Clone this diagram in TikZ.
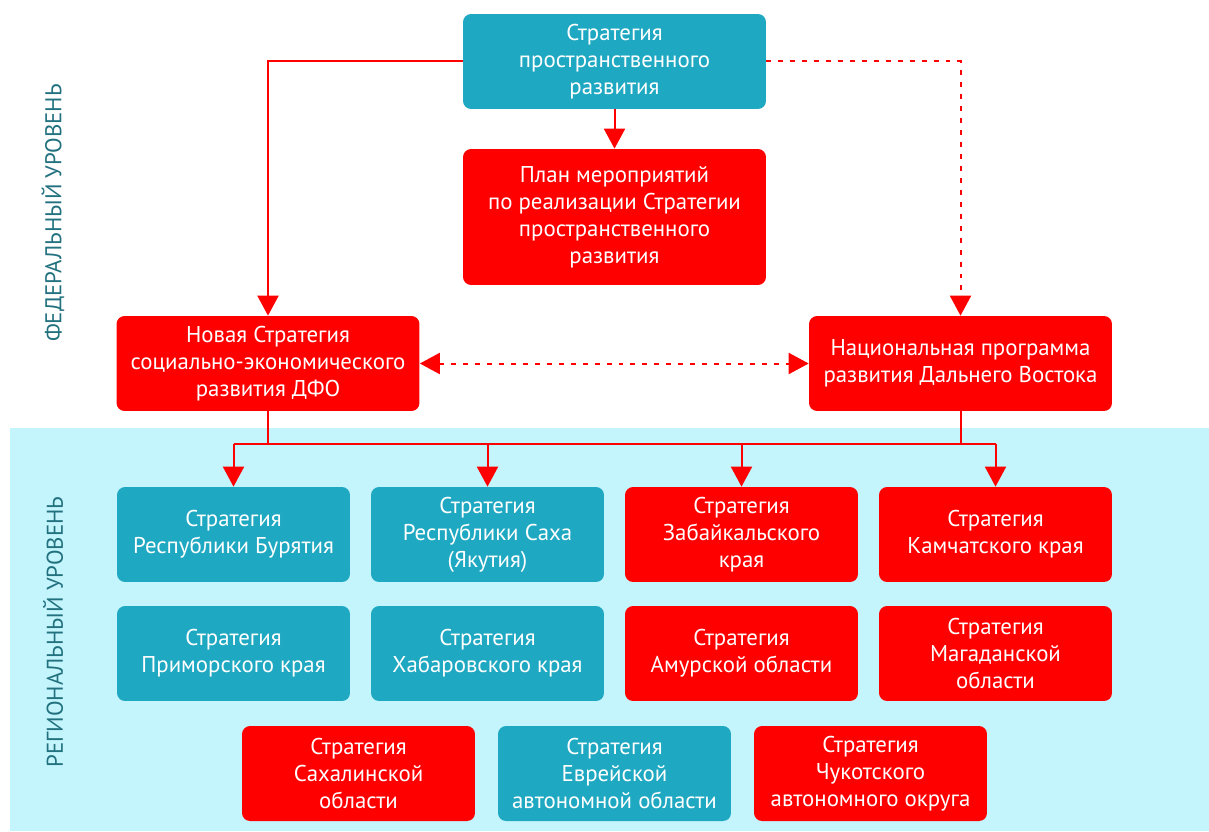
\documentclass[tikz,border=0pt]{standalone}
\usepackage{fontspec}
\setmainfont{PT Sans}
\usetikzlibrary{arrows.meta}
\definecolor{kred}{HTML}{FF0000}
\definecolor{kteal}{HTML}{1FA8C1}
\definecolor{kbg}{HTML}{C5F5FC}
\definecolor{klabel}{HTML}{22717F}
\tikzset{
	box/.style={rounded corners=0.16cm, text=white, align=center, inner sep=0pt, font=\fontsize{13}{15.4}\selectfont},
	bigbox/.style={box, minimum width=6.06cm, minimum height=1.9cm},
	smallbox/.style={box, minimum width=4.66cm, minimum height=1.9cm},
	redbox/.style={fill=kred},
	tealbox/.style={fill=kteal},
	conn/.style={draw=kred, line width=0.04cm},
	arr/.style={conn, -{Triangle[width=0.42cm, length=0.4cm]}},
	dotconn/.style={conn, dash pattern=on 2.8pt off 4pt},
	levellabel/.style={rotate=90, text=klabel, font=\fontsize{13}{15}\selectfont}
}
\begin{document}
\begin{tikzpicture}[x=0.02cm, y=-0.02cm]
	\useasboundingbox (0,0) rectangle (1209,831);
	\fill[kbg] (10,428) rectangle (1209,831);
	\node[levellabel] (fedlvl) at (53,213) {ФЕДЕРАЛЬНЫЙ УРОВЕНЬ};
	\node[levellabel] (reglvl) at (53,632) {РЕГИОНАЛЬНЫЙ УРОВЕНЬ};

	\node[bigbox, tealbox] (top) at (614.5,61.5) {Стратегия\\пространственного\\развития};
	\node[bigbox, redbox, minimum height=2.72cm] (plan) at (614.5,217) {План мероприятий\\по реализации Стратегии\\пространственного\\развития};
	\node[bigbox, redbox] (ndfo) at (268,363.5) {Новая Стратегия\\социально-экономического\\развития ДФО};
	\node[bigbox, redbox] (nprog) at (960.5,363.5) {Национальная программа\\развития Дальнего Востока};

	\node[smallbox, tealbox] (bur) at (233.5,534.5) {Стратегия\\Республики Бурятия};
	\node[smallbox, tealbox] (yak) at (487.5,534.5) {Стратегия\\Республики Саха\\(Якутия)};
	\node[smallbox, redbox] (zab) at (741.5,534.5) {Стратегия\\Забайкальского\\края};
	\node[smallbox, redbox] (kam) at (995.5,534.5) {Стратегия\\Камчатского края};

	\node[smallbox, tealbox] (prim) at (233.5,653.5) {Стратегия\\Приморского края};
	\node[smallbox, tealbox] (hab) at (487.5,653.5) {Стратегия\\Хабаровского края};
	\node[smallbox, redbox] (amur) at (741.5,653.5) {Стратегия\\Амурской области};
	\node[smallbox, redbox] (mag) at (995.5,653.5) {Стратегия\\Магаданской\\области};

	\node[smallbox, redbox] (sakh) at (358.5,773.5) {Стратегия\\Сахалинской\\области};
	\node[smallbox, tealbox] (evr) at (614.5,773.5) {Стратегия\\Еврейской\\автономной области};
	\node[smallbox, redbox] (chuk) at (870.5,773.5) {Стратегия\\Чукотского\\автономного округа};

	\draw[arr] (top.south) -- (plan.north);
	\draw[arr] (top.west) -| (ndfo.north);
	\draw[arr, dotconn] (top.east) -| (nprog.north);
	\draw[dotconn, {Triangle[width=0.42cm, length=0.4cm]}-{Triangle[width=0.42cm, length=0.4cm]}] (ndfo.east) -- (nprog.west);

	\coordinate (busL) at (233.5,444);
	\coordinate (busR) at (995.5,444);
	\draw[conn] (busL) -- (busR);
	\draw[conn] (ndfo.south) -- (ndfo.south |- busL);
	\draw[conn] (nprog.south) -- (nprog.south |- busR);
	\draw[arr] (busL) -- (bur.north);
	\draw[arr] (yak.north |- busL) -- (yak.north);
	\draw[arr] (zab.north |- busL) -- (zab.north);
	\draw[arr] (busR) -- (kam.north);
\end{tikzpicture}
\end{document}
